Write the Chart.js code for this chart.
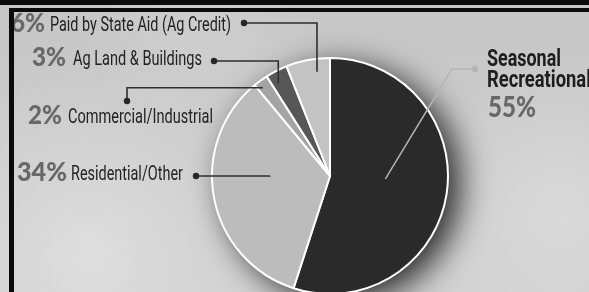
<!DOCTYPE html>
<html>
<head>
<meta charset="utf-8">
<script src="https://cdn.jsdelivr.net/npm/chart.js@4.4.1/dist/chart.umd.min.js"></script>
<style>
  html, body { margin: 0; padding: 0; overflow: hidden; background: #cfcfcf; }
  #wrap { position: relative; width: 589px; height: 300px; }
  #topBand { position: absolute; left: 0; top: 0; width: 589px; height: 5px; background: #0b0b0b; }
  #frame { position: absolute; left: 9px; top: 8px; width: 620px; height: 320px;
           border-top: 4px solid #0b0b0b; border-left: 5px solid #0b0b0b; }
</style>
</head>
<body>
<div id="wrap">
  <canvas id="pie" width="589" height="300"></canvas>
  <div id="topBand"></div>
  <div id="frame"></div>
</div>
<script>
// Property tax share by class
const categories = ['Seasonal Recreational', 'Residential/Other', 'Commercial/Industrial', 'Ag Land & Buildings', 'Paid by State Aid (Ag Credit)'];
const shares = [55, 34, 2, 3, 6];
const sliceColors = ['#2a2a2a', '#bcbcbc', '#a4a4a4', '#575757', '#c3c3c3'];

// Label placement (layout only)
const labelLayout = [
  null,
  { pctX: 17, pctW: 50, textX: 71, textW: 112, base: 180, dot: [196, 176], route: 'hv', frac: 0.59, rad: 0.51 },
  { pctX: 28, pctW: 34, textX: 68, textW: 145, base: 123, dot: [127, 101], route: 'vh', frac: 0.32, rad: 0.94 },
  { pctX: 32, pctW: 34, textX: 73, textW: 129, base: 65, dot: [214, 61], route: 'hv', frac: 0.3, rad: 0.9 },
  { pctX: 11, pctW: 34, textX: 50, textW: 181, base: 31, dot: [244, 23], route: 'hv', frac: 0.67, rad: 0.89 }
];

function drawFit(ctx, text, x, y, width, font, color) {
  ctx.save();
  ctx.font = font;
  ctx.fillStyle = color;
  ctx.textBaseline = 'alphabetic';
  const w = ctx.measureText(text).width;
  ctx.translate(x, y);
  ctx.scale(width / w, 1);
  ctx.fillText(text, 0, 0);
  ctx.restore();
}

function anchorOf(arc, frac, rad) {
  const a = arc.startAngle + (arc.endAngle - arc.startAngle) * frac;
  return [arc.x + Math.cos(a) * arc.outerRadius * rad, arc.y + Math.sin(a) * arc.outerRadius * rad];
}

const backdrop = {
  id: 'backdrop',
  beforeDraw(chart) {
    const ctx = chart.ctx;
    const w = chart.width, h = chart.height;
    ctx.save();
    const g = ctx.createLinearGradient(0, 0, 0, h);
    g.addColorStop(0, '#c6c6c6');
    g.addColorStop(1, '#d2d2d2');
    ctx.fillStyle = g;
    ctx.fillRect(0, 0, w, h);
    [[90, 250, 190, 'rgba(228,228,228,0.7)'], [560, 210, 150, 'rgba(226,226,226,0.6)'], [200, 20, 120, 'rgba(215,215,215,0.4)']].forEach(([x, y, r, c]) => {
      const rg = ctx.createRadialGradient(x, y, 0, x, y, r);
      rg.addColorStop(0, c);
      rg.addColorStop(1, 'rgba(220,220,220,0)');
      ctx.fillStyle = rg;
      ctx.fillRect(0, 0, w, h);
    });
    ctx.restore();
  },
  beforeDatasetsDraw(chart) {
    const arc = chart.getDatasetMeta(0).data[0];
    if (!arc) return;
    const ctx = chart.ctx;
    ctx.save();
    ctx.shadowColor = 'rgba(0,0,0,0.8)';
    ctx.shadowBlur = 32;
    ctx.shadowOffsetX = 12;
    ctx.shadowOffsetY = 8;
    ctx.fillStyle = '#2a2a2a';
    ctx.beginPath();
    ctx.arc(arc.x, arc.y, arc.outerRadius, 0, Math.PI * 2);
    ctx.fill();
    ctx.restore();
  }
};

const callouts = {
  id: 'callouts',
  afterDatasetsDraw(chart) {
    const ctx = chart.ctx;
    const arcs = chart.getDatasetMeta(0).data;
    ctx.save();
    ctx.lineWidth = 1.6;

    labelLayout.forEach((lay, i) => {
      if (!lay) return;
      const [ax, ay] = anchorOf(arcs[i], lay.frac, lay.rad);
      const [dx, dy] = lay.dot;
      ctx.strokeStyle = '#2e2e2e';
      ctx.beginPath();
      ctx.moveTo(dx, dy);
      if (lay.route === 'hv') { ctx.lineTo(ax, dy); ctx.lineTo(ax, ay); }
      else { ctx.lineTo(dx, ay); ctx.lineTo(ax, ay); }
      ctx.stroke();
      ctx.fillStyle = '#262626';
      ctx.beginPath();
      ctx.arc(dx, dy, 3.2, 0, Math.PI * 2);
      ctx.fill();

      drawFit(ctx, shares[i] + '%', lay.pctX, lay.base + 1, lay.pctW, '900 26px Lato', '#686868');
      drawFit(ctx, categories[i], lay.textX, lay.base, lay.textW, '400 21px Roboto', '#222222');
    });

    // Seasonal callout on the right
    const [sx, sy] = anchorOf(arcs[0], 0.47, 0.47);
    ctx.strokeStyle = '#b4b4b4';
    ctx.lineWidth = 1.5;
    ctx.beginPath();
    ctx.moveTo(475, 69);
    ctx.lineTo(452, 69);
    ctx.lineTo(sx, sy);
    ctx.stroke();
    ctx.fillStyle = '#b4b4b4';
    ctx.beginPath();
    ctx.arc(475, 69, 3.2, 0, Math.PI * 2);
    ctx.fill();
    const words = categories[0].split(' ');
    drawFit(ctx, words[0], 487, 66, 74, '700 24px Roboto', '#1e1e1e');
    drawFit(ctx, words[1], 487, 87, 104, '700 24px Roboto', '#1e1e1e');
    drawFit(ctx, shares[0] + '%', 488, 117, 48, '900 29px Lato', '#686868');
    ctx.restore();
  }
};

new Chart(document.getElementById('pie'), {
  type: 'pie',
  data: {
    labels: categories,
    datasets: [{
      data: shares,
      backgroundColor: sliceColors,
      borderColor: '#ffffff',
      borderWidth: 2
    }]
  },
  options: {
    responsive: false,
    devicePixelRatio: 1,
    animation: false,
    layout: { padding: { left: 211, right: 140, top: 57, bottom: 5 } },
    plugins: { legend: { display: false }, tooltip: { enabled: false } }
  },
  plugins: [backdrop, callouts]
});
</script>
</body>
</html>
